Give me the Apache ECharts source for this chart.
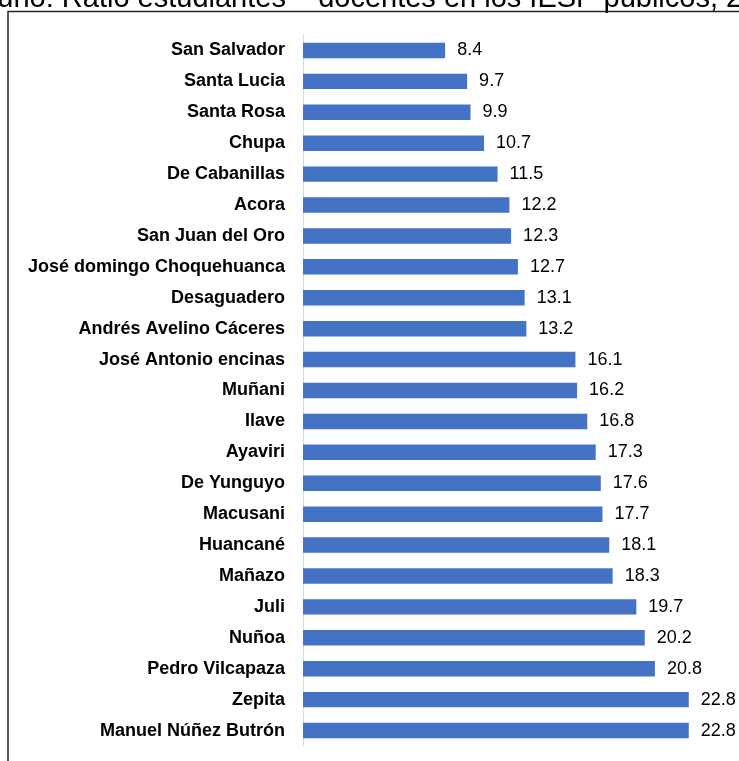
<!DOCTYPE html>
<html lang="es">
<head>
    <meta charset="UTF-8">
    <title>Ratio estudiantes - docentes</title>
    <script src="https://cdn.jsdelivr.net/npm/echarts@6/dist/echarts.min.js"></script>
    <style>
        html, body { margin: 0; padding: 0; background: #fff; }
        #chart { width: 739px; height: 761px; }
    </style>
</head>
<body>
    <div id="chart"></div>
    <script>
        // institutos, de arriba hacia abajo
        var institutos = ['San Salvador', 'Santa Lucia', 'Santa Rosa', 'Chupa', 'De Cabanillas', 'Acora',
            'San Juan del Oro', 'José domingo Choquehuanca', 'Desaguadero', 'Andrés Avelino Cáceres',
            'José Antonio encinas', 'Muñani', 'Ilave', 'Ayaviri', 'De Yunguyo', 'Macusani', 'Huancané',
            'Mañazo', 'Juli', 'Nuñoa', 'Pedro Vilcapaza', 'Zepita', 'Manuel Núñez Butrón'];
        var ratios = [8.4, 9.7, 9.9, 10.7, 11.5, 12.2, 12.3, 12.7, 13.1, 13.2, 16.1, 16.2, 16.8,
            17.3, 17.6, 17.7, 18.1, 18.3, 19.7, 20.2, 20.8, 22.8, 22.8];
        var titulo = 'Puno: Ratio estudiantes – docentes en los IESP públicos, 2019';

        var myChart = echarts.init(document.getElementById('chart'));
        var option = {
            animation: false,
            graphic: [
                {
                    type: 'text',
                    left: -22,
                    top: -16,
                    style: {
                        text: titulo,
                        font: '29px Arial, "Liberation Sans"',
                        fill: '#000'
                    }
                },
                {
                    type: 'rect',
                    shape: { x: 8, y: 11.5, width: 760, height: 780 },
                    style: { fill: 'none', stroke: '#262626', lineWidth: 1.5 }
                }
            ],
            grid: {
                left: 303,
                top: 35,
                width: 423,
                height: 711,
                containLabel: false
            },
            xAxis: {
                type: 'value',
                min: 0,
                max: 25,
                show: false
            },
            yAxis: {
                type: 'category',
                inverse: true,
                data: institutos,
                axisLine: { lineStyle: { color: '#d9d9d9', width: 1 } },
                axisTick: { show: false },
                axisLabel: {
                    margin: 18,
                    color: '#000',
                    fontWeight: 'bold',
                    fontSize: 18,
                    fontFamily: 'Arial, "Liberation Sans"'
                }
            },
            series: [
                {
                    type: 'bar',
                    data: ratios,
                    barCategoryGap: '50%',
                    itemStyle: { color: '#4472c4' },
                    label: {
                        show: true,
                        position: 'right',
                        distance: 12,
                        color: '#000',
                        fontSize: 18,
                        fontFamily: 'Arial, "Liberation Sans"',
                        formatter: function (p) { return p.value.toFixed(1); }
                    }
                }
            ]
        };
        myChart.setOption(option);
    </script>
</body>
</html>
